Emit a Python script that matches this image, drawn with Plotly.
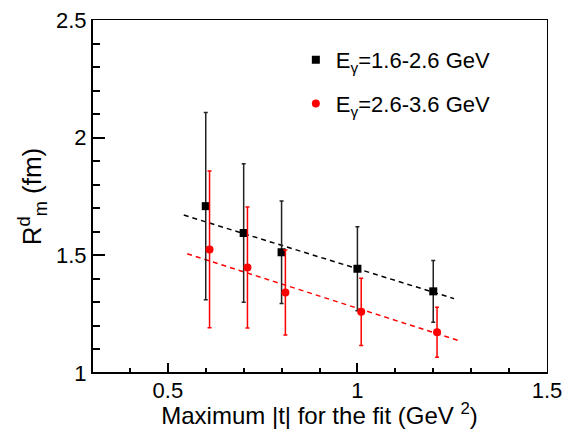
import plotly.graph_objects as go

# Data
x_black = [0.60, 0.70, 0.80, 1.00, 1.20]
y_black = [1.709, 1.595, 1.513, 1.443, 1.347]
e_black = [0.398, 0.294, 0.218, 0.178, 0.131]

x_red = [0.61, 0.71, 0.81, 1.01, 1.21]
y_red = [1.525, 1.448, 1.342, 1.260, 1.173]
e_red = [0.333, 0.257, 0.181, 0.143, 0.106]

fit_black_x = [0.542, 1.255]
fit_black_y = [1.671, 1.316]
fit_red_x = [0.551, 1.266]
fit_red_y = [1.507, 1.138]

label_black = "E<sub>γ</sub>=1.6-2.6 GeV"
label_red = "E<sub>γ</sub>=2.6-3.6 GeV"

FONT = "Liberation Sans, Arial, Helvetica, sans-serif"

fig = go.Figure()

fig.add_trace(go.Scatter(x=fit_black_x, y=fit_black_y, mode="lines",
                         line=dict(color="black", width=1.5, dash="5px,4px"),
                         showlegend=False, hoverinfo="skip"))
fig.add_trace(go.Scatter(x=fit_red_x, y=fit_red_y, mode="lines",
                         line=dict(color="red", width=1.5, dash="5px,4px"),
                         showlegend=False, hoverinfo="skip"))

fig.add_trace(go.Scatter(x=x_black, y=y_black, mode="markers", name=label_black,
                         legendgroup="a",
                         marker=dict(symbol="square", size=8, color="black"),
                         error_y=dict(type="data", array=e_black, color="#222222",
                                      thickness=1.5, width=2)))
fig.add_trace(go.Scatter(x=x_red, y=y_red, mode="markers", name=label_red,
                         legendgroup="b",
                         marker=dict(symbol="circle", size=8, color="red"),
                         error_y=dict(type="data", array=e_red, color="red",
                                      thickness=1.5, width=2)))

fig.update_layout(
    width=566, height=429,
    margin=dict(l=92, r=19, t=20, b=56, autoexpand=False),
    paper_bgcolor="white", plot_bgcolor="white",
    font=dict(family=FONT, size=22, color="black"),
    showlegend=True,
    legend=dict(x=0.448, y=0.946, xanchor="left", yanchor="top",
                bgcolor="rgba(0,0,0,0)", borderwidth=0,
                traceorder="grouped", tracegroupgap=12,
                font=dict(size=22)),
    xaxis=dict(range=[0.3, 1.5], showgrid=False, zeroline=False, automargin=False,
               showline=True, linewidth=1, linecolor="black", mirror=True,
               tickmode="array", tickvals=[0.5, 1.0, 1.5], ticktext=["0.5", "1", "1.5"],
               ticks="inside", ticklen=10, tickwidth=1.5, tickcolor="black",
               ticklabelstandoff=-2,
               minor=dict(dtick=0.1, tick0=0.3, ticks="inside", ticklen=5,
                          tickwidth=1.5, tickcolor="black", showgrid=False),
               title=dict(text="Maximum |t| for the fit (GeV <sup>2</sup>)", standoff=4,
                          font=dict(size=24)),
               tickfont=dict(size=22)),
    yaxis=dict(range=[1.0, 2.5], showgrid=False, zeroline=False, automargin=False,
               showline=True, linewidth=1, linecolor="black", mirror=True,
               tickmode="array", tickvals=[1.0, 1.5, 2.0, 2.5], ticktext=["1", "1.5", "2", "2.5"],
               ticks="inside", ticklen=13, tickwidth=1.5, tickcolor="black",
               minor=dict(dtick=0.1, tick0=1.0, ticks="inside", ticklen=8,
                          tickwidth=1.5, tickcolor="black", showgrid=False),
               title=dict(text="R<sup>d</sup><sub>m</sub> (fm)", standoff=6),
               tickfont=dict(size=22)),
    shapes=[
        dict(type="line", xref="x domain", yref="y domain", x0=0, x1=1, y0=0, y1=0,
             line=dict(color="black", width=2), layer="above"),
        dict(type="line", xref="x domain", yref="y domain", x0=0, x1=0, y0=0, y1=1,
             line=dict(color="black", width=2), layer="above"),
    ],
)

fig.write_html("out.html")
